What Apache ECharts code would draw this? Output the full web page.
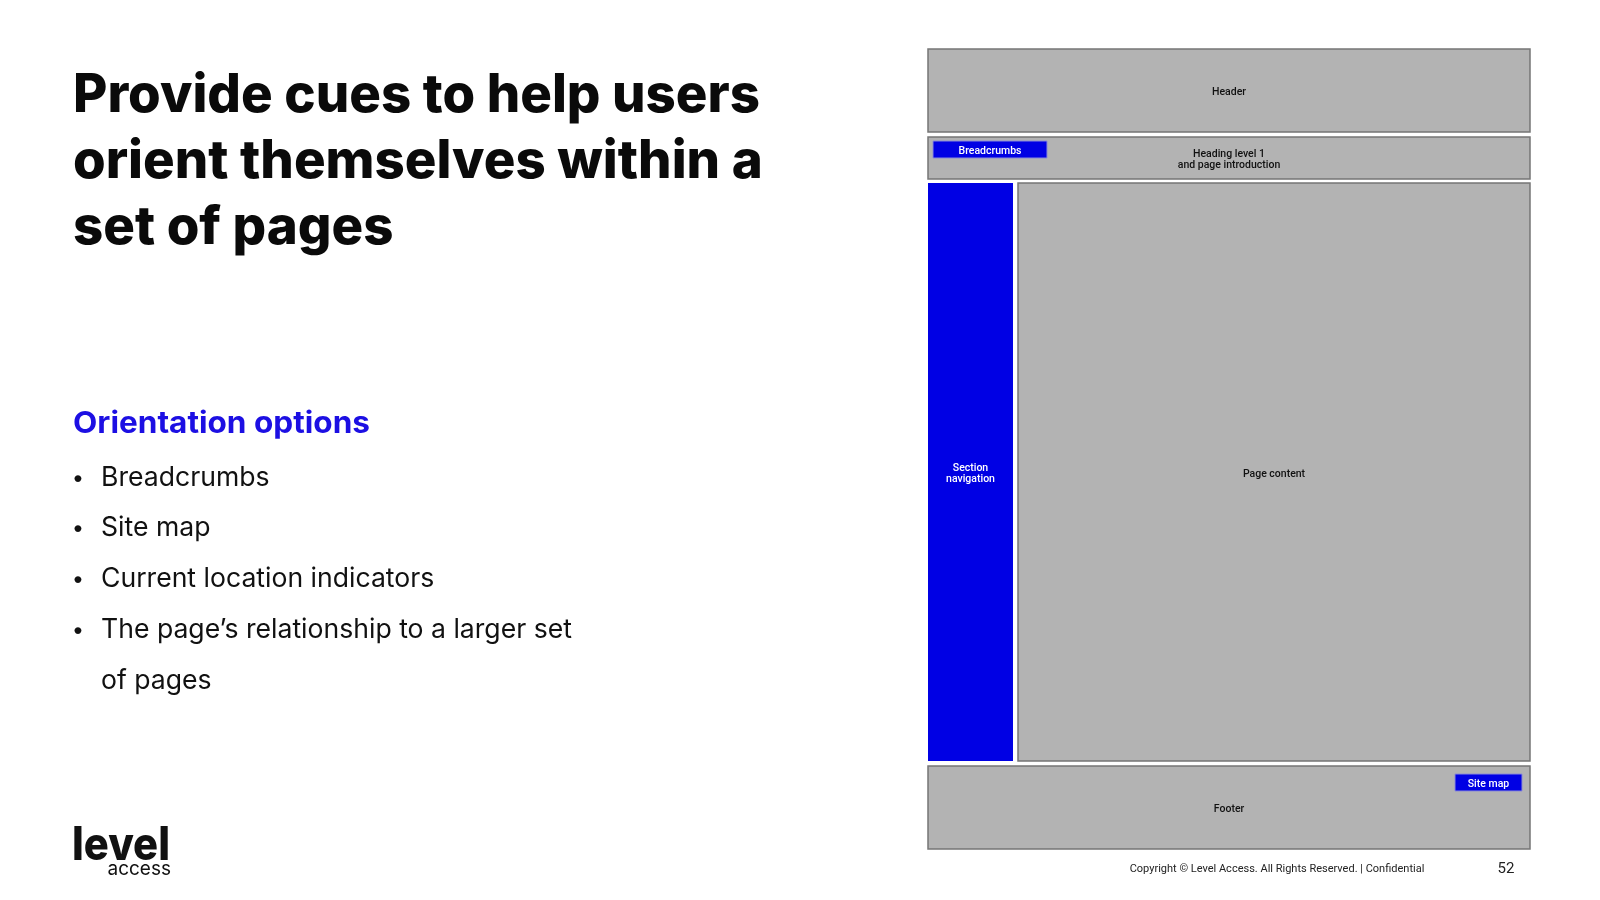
<!DOCTYPE html>
<html>
<head>
<meta charset="utf-8">
<script src="https://cdn.jsdelivr.net/npm/echarts@6/dist/echarts.min.js"></script>
<style>
html,body{margin:0;padding:0;background:#fff;}
#main{width:1600px;height:900px;}
</style>
</head>
<body>
<div id="main"></div>
<script>
// ---- content ----
const titleLines = ['Provide cues to help users', 'orient themselves within a', 'set of pages'];
const subheading = 'Orientation options';
const bulletLines = ['Breadcrumbs', 'Site map', 'Current location indicators', 'The page\u2019s relationship to a larger set', 'of pages'];
const bulletMarks = [true, true, true, true, false];
const footerText = 'Copyright \u00a9 Level Access. All Rights Reserved. | Confidential';
const pageNumber = '52';

// ---- wireframe blocks (in wireframe page units: 602 wide x 800 tall) ----
const blockLabels = ['Header', 'Heading level 1\nand page introduction', 'Section\nnavigation', 'Page content', 'Footer', 'Breadcrumbs', 'Site map'];
const blockKinds  = ['gray', 'gray', 'blue', 'gray', 'gray', 'blue', 'blue'];
const blockX0 = [0,   0,   0,   90,  0,   5,   527];
const blockY0 = [0,   88,  134, 134, 717, 92,  725];
const blockX1 = [602, 602, 85,  602, 602, 119, 594];
const blockY1 = [83,  130, 712, 712, 800, 109, 742];

const blockData = blockLabels.map((l, i) => [blockX0[i], blockY0[i], blockX1[i], blockY1[i], i]);

// measure helper
const mctx = document.createElement('canvas').getContext('2d');
function measure(text, font) { mctx.font = font; return mctx.measureText(text).width; }

const titleFont = '800 53px Inter';
const titleScale = 687 / measure(titleLines[0], titleFont);
const subFont = '700 30px Inter';
const subScale = 297 / measure(subheading, subFont);
const logoFont = '800 46px Inter';
const logoScale = 98 / measure('level', logoFont);

const chart = echarts.init(document.getElementById('main'), null, {renderer: 'canvas'});

const graphics = [];
const titleY = [96, 162, 228];
titleLines.forEach((t, i) => {
  graphics.push({
    type: 'text', x: 73, y: titleY[i], scaleX: titleScale,
    style: {text: t, fill: '#0a0a0a', font: titleFont, align: 'left', verticalAlign: 'middle'}
  });
});
graphics.push({
  type: 'text', x: 73, y: 424, scaleX: subScale,
  style: {text: subheading, fill: '#1c0fe3', font: subFont, align: 'left', verticalAlign: 'middle'}
});
const bulletY = [478, 528, 579, 630, 681];
bulletLines.forEach((t, i) => {
  if (bulletMarks[i]) {
    graphics.push({
      type: 'text', x: 78, y: bulletY[i],
      style: {text: '\u2022', fill: '#111', font: '400 22px Inter', align: 'center', verticalAlign: 'middle'}
    });
  }
  graphics.push({
    type: 'text', x: 101, y: bulletY[i],
    style: {text: t, fill: '#111', font: '400 26.6px Inter', align: 'left', verticalAlign: 'middle'}
  });
});
// logo
graphics.push({
  type: 'text', x: 72, y: 846, scaleX: logoScale,
  style: {text: 'level', fill: '#111', font: logoFont, align: 'left', verticalAlign: 'middle'}
});
graphics.push({
  type: 'text', x: 171, y: 869,
  style: {text: 'access', fill: '#111', font: '400 19px Inter', align: 'right', verticalAlign: 'middle'}
});
// footer
graphics.push({
  type: 'text', x: 1277, y: 869,
  style: {text: footerText, fill: '#222', font: '400 11px Roboto', align: 'center', verticalAlign: 'middle'}
});
graphics.push({
  type: 'text', x: 1506, y: 869,
  style: {text: pageNumber, fill: '#222', font: '400 15px Roboto', align: 'center', verticalAlign: 'middle'}
});

const option = {
  backgroundColor: '#ffffff',
  animation: false,
  grid: {left: 928, top: 49, width: 602, height: 800},
  xAxis: {type: 'value', min: 0, max: 602, show: false},
  yAxis: {type: 'value', min: 0, max: 800, inverse: true, show: false},
  series: [{
    type: 'custom',
    data: blockData,
    encode: {x: [0, 2], y: [1, 3]},
    renderItem: function (params, api) {
      const p0 = api.coord([api.value(0), api.value(1)]);
      const p1 = api.coord([api.value(2), api.value(3)]);
      const idx = api.value(4);
      const blue = blockKinds[idx] === 'blue';
      const w = p1[0] - p0[0], h = p1[1] - p0[1];
      return {
        type: 'group',
        children: [{
          type: 'rect',
          shape: {x: p0[0], y: p0[1], width: w, height: h},
          style: blue ? {fill: '#0000e4', stroke: idx === 2 ? null : '#8a8ad8', lineWidth: 1}
                      : {fill: '#b3b3b3', stroke: '#767676', lineWidth: 1.5}
        }, {
          type: 'text',
          x: p0[0] + w / 2, y: p0[1] + h / 2 + 2,
          style: {
            text: blockLabels[idx],
            fill: blue ? '#ffffff' : '#111111',
            font: '500 10.5px Roboto',
            lineHeight: 11.5,
            align: 'center', verticalAlign: 'middle'
          }
        }]
      };
    }
  }],
  graphic: {elements: graphics}
};
chart.setOption(option);
</script>
</body>
</html>
